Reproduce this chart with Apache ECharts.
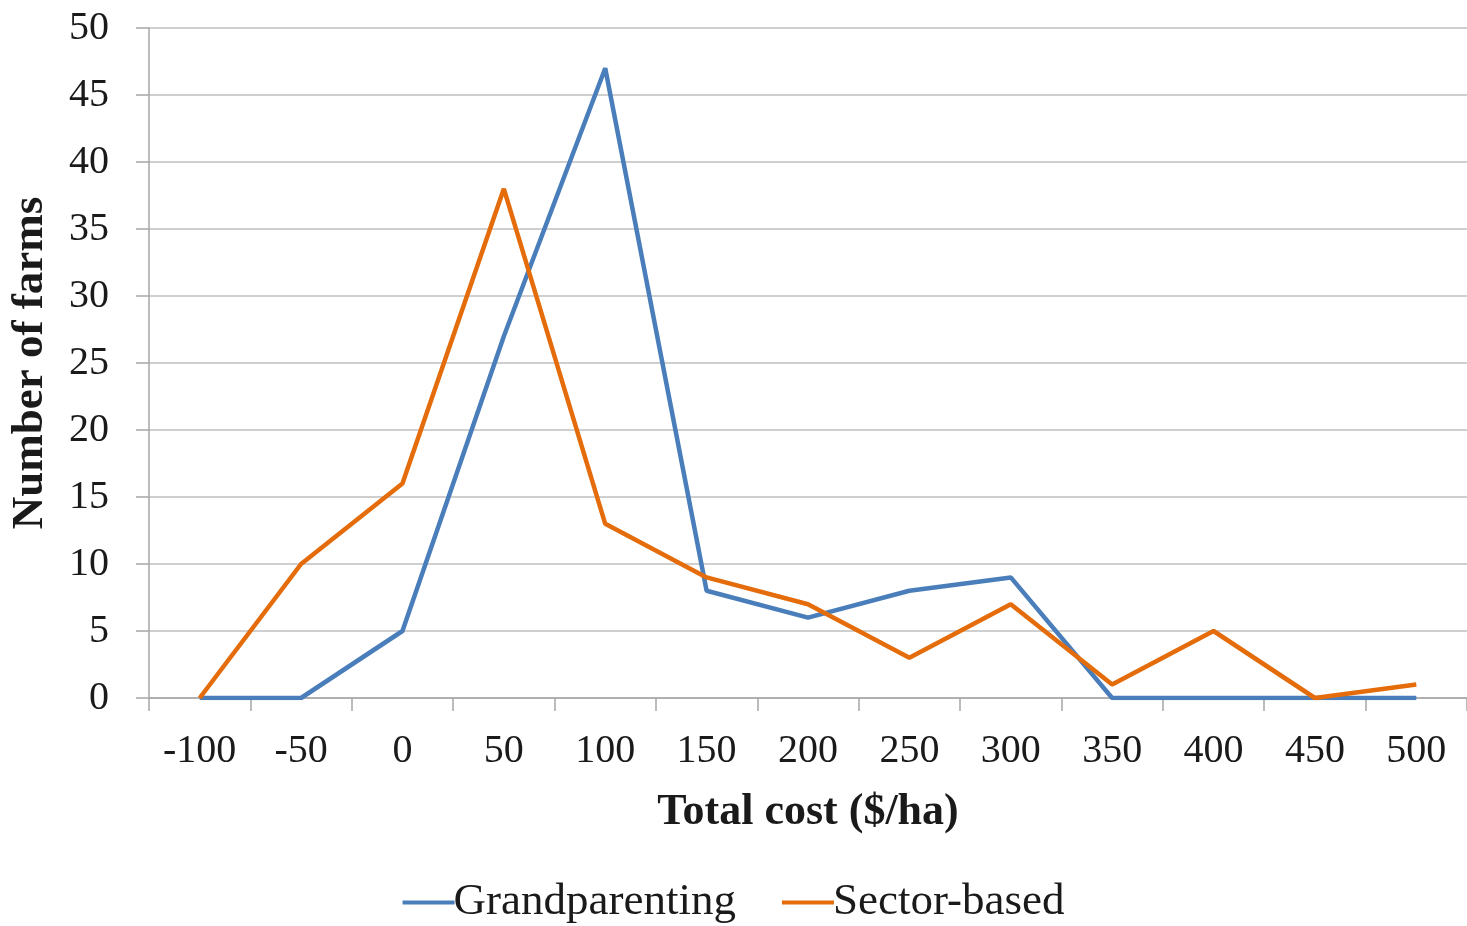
<!DOCTYPE html>
<html>
<head>
<meta charset="utf-8">
<script src="https://cdn.jsdelivr.net/npm/echarts@6/dist/echarts.min.js"></script>
<style>html,body{margin:0;padding:0;background:#fff;}#c{width:1467px;height:926px;}</style>
</head>
<body>
<div id="c"></div>
<script>
const categories = ['-100','-50','0','50','100','150','200','250','300','350','400','450','500'];
const grandparenting = [0, 0, 5, 27, 47, 8, 6, 8, 9, 0, 0, 0, 0];
const sectorBased = [0, 10, 16, 38, 13, 9, 7, 3, 7, 1, 5, 0, 1];
const yTicks = {min: 0, max: 50, interval: 5};

const font = 'Liberation Serif';
const chart = echarts.init(document.getElementById('c'));
chart.setOption({
  animation: false,
  grid: {left: 148, right: 0, top: 28, bottom: 228},
  legend: {
    top: 875, left: 'center',
    itemWidth: 52, itemHeight: 4, itemGap: 46, icon: 'rect',
    textStyle: {fontFamily: font, fontSize: 45, color: '#1a1a1a', padding: [0,0,0,-6]},
    data: ['Grandparenting', 'Sector-based']
  },
  xAxis: {
    type: 'category', data: categories, boundaryGap: true,
    name: 'Total cost ($/ha)', nameLocation: 'middle', nameGap: 93,
    nameTextStyle: {fontFamily: font, fontSize: 44, fontWeight: 'bold', color: '#1a1a1a'},
    axisLine: {lineStyle: {color: '#a6a6a6', width: 1.5}},
    axisTick: {show: true, length: 13, lineStyle: {color: '#a6a6a6', width: 1.5}},
    axisLabel: {fontFamily: font, fontSize: 40, color: '#1a1a1a', margin: 33}
  },
  yAxis: {
    type: 'value', min: yTicks.min, max: yTicks.max, interval: yTicks.interval,
    name: 'Number of farms', nameLocation: 'middle', nameGap: 96, nameRotate: 90,
    nameTextStyle: {fontFamily: font, fontSize: 45, fontWeight: 'bold', color: '#1a1a1a'},
    axisLine: {show: true, lineStyle: {color: '#a6a6a6', width: 1.5}},
    axisTick: {show: true, length: 13, lineStyle: {color: '#a6a6a6', width: 1.5}},
    axisLabel: {fontFamily: font, fontSize: 40, color: '#1a1a1a', margin: 40},
    splitLine: {lineStyle: {color: '#bfbfbf', width: 1.5}}
  },
  series: [
    {name: 'Grandparenting', type: 'line', data: grandparenting, symbol: 'none',
     lineStyle: {color: '#4A7EBB', width: 4.5}, itemStyle: {color: '#4A7EBB'}},
    {name: 'Sector-based', type: 'line', data: sectorBased, symbol: 'none',
     lineStyle: {color: '#E46C0A', width: 4.5}, itemStyle: {color: '#E46C0A'}}
  ]
});
</script>
</body>
</html>
